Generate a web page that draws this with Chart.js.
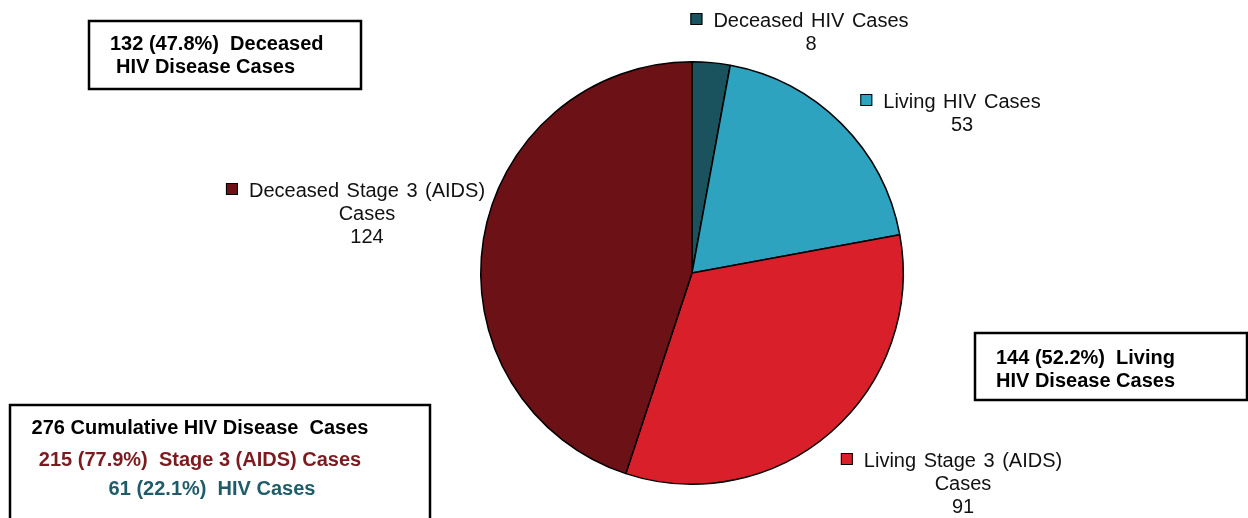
<!DOCTYPE html>
<html>
<head>
<meta charset="utf-8">
<script src="https://cdn.jsdelivr.net/npm/chart.js@4.4.0/dist/chart.umd.min.js"></script>
<style>
  html, body { margin: 0; padding: 0; background: #fff; }
  #wrap { position: relative; width: 1248px; height: 518px; overflow: hidden; }
</style>
</head>
<body>
<div id="wrap"><canvas id="pieHiv" width="1248" height="518"></canvas></div>
<script>
// data
const categories = ['Deceased HIV Cases', 'Living HIV Cases', 'Living Stage 3 (AIDS) Cases', 'Deceased Stage 3 (AIDS) Cases'];
const caseCounts = [8, 53, 91, 124];
const labelLines = [['Deceased HIV Cases'], ['Living HIV Cases'], ['Living Stage 3 (AIDS)', 'Cases'], ['Deceased Stage 3 (AIDS)', 'Cases']];
const sliceColors = ['#1a525e', '#2ea3bf', '#d81f2a', '#6c1116'];

// label placement relative to pie center (text center x, first line y)
const labelOffsets = [[119, -252], [270, -171], [271, 188], [-325, -82]];

let total = caseCounts.reduce((a, b) => a + b, 0);
let deceased = caseCounts[0] + caseCounts[3];
let living = caseCounts[1] + caseCounts[2];
let stage3 = caseCounts[2] + caseCounts[3];
let hivOnly = caseCounts[0] + caseCounts[1];
function pct(v) { return (v / total * 100).toFixed(1) + '%'; }

// text boxes
const boxes = [
    { rect: [89, 21, 272, 68], lines: [
        { text: deceased + ' (' + pct(deceased) + ')  Deceased', x: 110, y: 44, color: '#000', align: 'left' },
        { text: 'HIV Disease Cases', x: 116, y: 67, color: '#000', align: 'left' }] },
    { rect: [975, 333, 272, 67], lines: [
        { text: living + ' (' + pct(living) + ')  Living', x: 996, y: 358, color: '#000', align: 'left' },
        { text: 'HIV Disease Cases', x: 996, y: 381, color: '#000', align: 'left' }] },
    { rect: [10, 405, 420, 130], lines: [
        { text: total + ' Cumulative HIV Disease  Cases', x: 200, y: 428, color: '#000', align: 'center' },
        { text: stage3 + ' (' + pct(stage3) + ')  Stage 3 (AIDS) Cases', x: 200, y: 460, color: '#7b1a1f', align: 'center' },
        { text: hivOnly + ' (' + pct(hivOnly) + ')  HIV Cases', x: 212, y: 489, color: '#1f5b69', align: 'center' }] }
];

const labelPlugin = {
    id: 'labelPlugin',
    afterDraw(chart) {
        const ctx = chart.ctx;
        const meta = chart.getDatasetMeta(0);
        const cx = meta.data[0].x, cy = meta.data[0].y;
        ctx.save();
        ctx.font = '20px "Liberation Sans", Arial, sans-serif';
        ctx.wordSpacing = '2px';
        ctx.textBaseline = 'middle';
        ctx.textAlign = 'center';
        meta.data.forEach((arc, i) => {
            let tx = cx + labelOffsets[i][0];
            let ty = cy + labelOffsets[i][1];
            let lines = labelLines[i].concat([String(caseCounts[i])]);
            lines.forEach((ln, j) => {
                ctx.fillStyle = '#111';
                ctx.fillText(ln, tx, ty + j * 23);
            });
            // marker
            let w = ctx.measureText(lines[0]).width;
            let mx = tx - w / 2 - 23;
            ctx.fillStyle = sliceColors[i];
            ctx.fillRect(mx, ty - 8, 12, 12);
            ctx.strokeStyle = '#000';
            ctx.lineWidth = 1;
            ctx.strokeRect(mx + 0.5, ty - 7.5, 11, 11);
        });

        // boxes
        ctx.font = 'bold 20px "Liberation Sans", Arial, sans-serif';
        ctx.wordSpacing = '0px';
        boxes.forEach(b => {
            ctx.strokeStyle = '#000';
            ctx.lineWidth = 2.5;
            ctx.strokeRect(b.rect[0], b.rect[1], b.rect[2], b.rect[3]);
            b.lines.forEach(l => {
                ctx.fillStyle = l.color;
                ctx.textAlign = l.align;
                ctx.fillText(l.text, l.x, l.y);
            });
        });
        ctx.restore();
    }
};

var ctx = document.getElementById('pieHiv').getContext('2d');
var chart = new Chart(ctx, {
    type: 'pie',
    data: {
        labels: categories,
        datasets: [{
            data: caseCounts,
            backgroundColor: sliceColors,
            borderColor: '#000',
            borderWidth: 1.5
        }]
    },
    options: {
        responsive: false,
        animation: false,
        layout: { padding: { top: 61, bottom: 33, left: 480, right: 344 } },
        plugins: {
            legend: { display: false },
            tooltip: { enabled: false }
        }
    },
    plugins: [labelPlugin]
});
</script>
</body>
</html>
